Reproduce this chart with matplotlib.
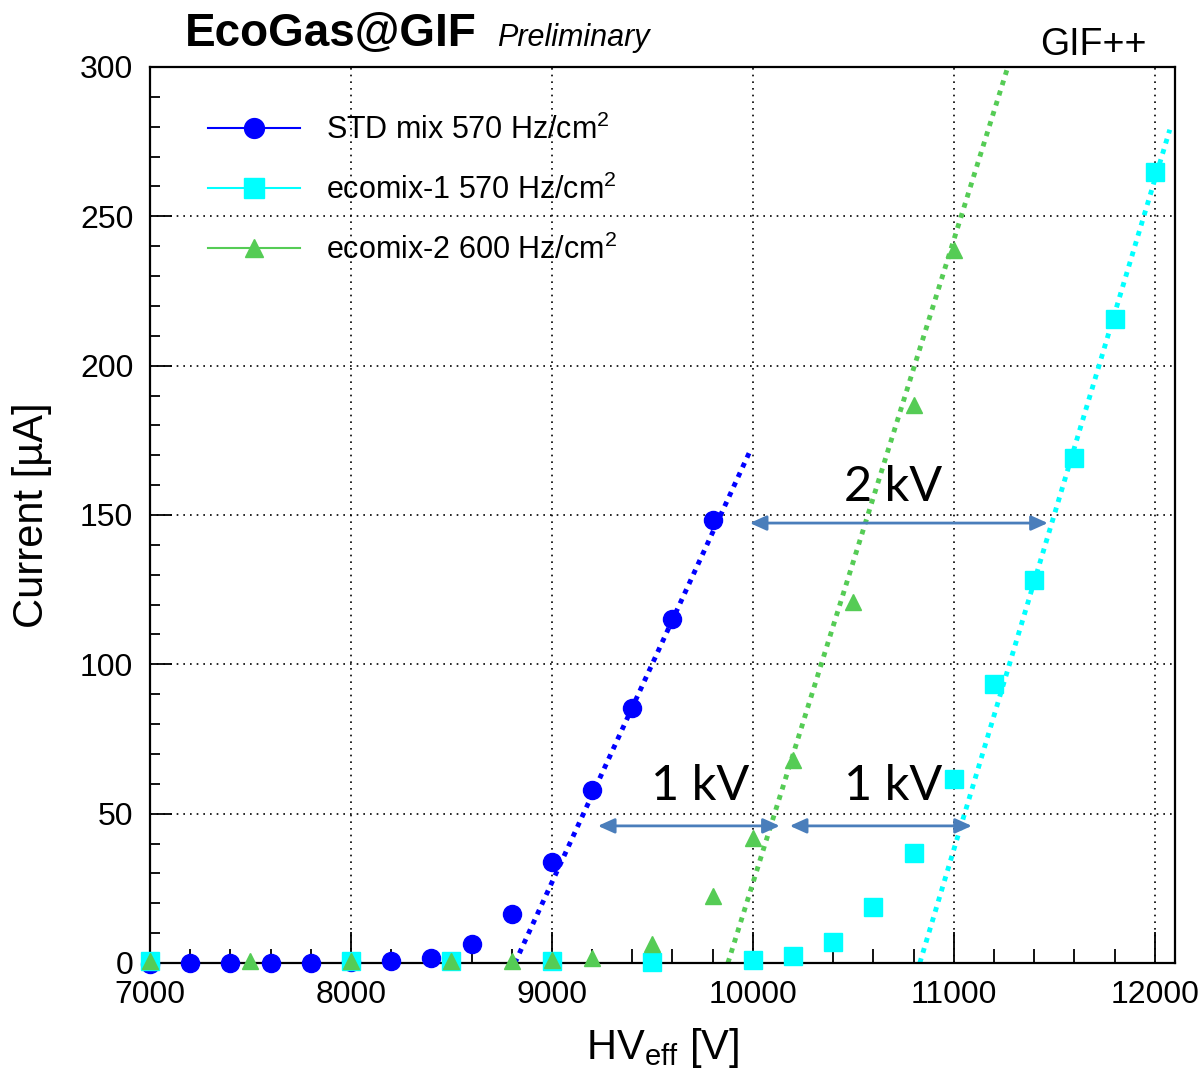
import matplotlib
matplotlib.use('Agg')
import matplotlib.pyplot as plt
from matplotlib.ticker import MultipleLocator

plt.rcParams['font.family'] = ['Liberation Sans', 'DejaVu Sans']
plt.rcParams['mathtext.default'] = 'regular'

# STD mix 570 Hz/cm2 (blue circles)
std_hv = [7000, 7200, 7400, 7600, 7800, 8000, 8200, 8400, 8600, 8800, 9000, 9200, 9400, 9600, 9800]
std_cur = [-0.5, 0.0, 0.0, 0.0, 0.0, 0.2, 0.7, 1.7, 6.4, 16.4, 33.8, 57.9, 85.4, 115.2, 148.3]

# ecomix-1 570 Hz/cm2 (cyan squares)
eco1_hv = [7000, 8000, 8500, 9000, 9500, 10000, 10200, 10400, 10600, 10800, 11000, 11200, 11400, 11600, 11800, 12000]
eco1_cur = [0.5, 0.5, 0.5, 0.5, 0.3, 1.0, 2.3, 7.0, 18.7, 36.8, 61.6, 93.4, 128.2, 169.0, 215.6, 264.8]

# ecomix-2 600 Hz/cm2 (green triangles)
eco2_hv = [7000, 7500, 8000, 8500, 8800, 9000, 9200, 9500, 9800, 10000, 10200, 10500, 10800, 11000]
eco2_cur = [0.5, 0.5, 0.5, 0.5, 0.5, 1.0, 1.7, 6.4, 22.4, 41.8, 68.0, 120.9, 186.8, 238.7]

# linear fits (end points)
std_fit_hv = [8816, 9990]
std_fit_cur = [0, 172]
eco1_fit_hv = [10831, 12075]
eco1_fit_cur = [0, 279]
eco2_fit_hv = [9876, 11269]
eco2_fit_cur = [0, 300]

# voltage shift arrows: (x start, x end, y, label, label x, label y)
arrows = [
    (9985, 11468, 147.3, '2 kV', 10697, 152),
    (9229, 10134, 45.9, '1 kV', 9736, 52),
    (10184, 11090, 45.9, '1 kV', 10697, 52),
]

c_std = '#0000ff'
c_eco1 = '#00ffff'
c_eco2 = '#55cc55'
c_arrow = '#4a7ebb'

fig = plt.figure(figsize=(12, 10.72), dpi=100)
ax = fig.add_axes([0.125, 0.1017, 0.854, 0.8358])

ax.plot(std_fit_hv, std_fit_cur, color=c_std, lw=3.5, ls=(0, (1, 1.2)), zorder=2)
ax.plot(eco1_fit_hv, eco1_fit_cur, color=c_eco1, lw=3.5, ls=(0, (1, 1.2)), zorder=2)
ax.plot(eco2_fit_hv, eco2_fit_cur, color=c_eco2, lw=3.5, ls=(0, (1, 1.2)), zorder=2)

ax.plot(std_hv, std_cur, 'o', color=c_std, ms=13, zorder=3, clip_on=False, label='STD mix 570 Hz/cm$^2$')
ax.plot(eco1_hv, eco1_cur, 's', color=c_eco1, ms=13, zorder=4, clip_on=False, label='ecomix-1 570 Hz/cm$^2$')
ax.plot(eco2_hv, eco2_cur, '^', color=c_eco2, ms=12, zorder=5, clip_on=False, label='ecomix-2 600 Hz/cm$^2$')

for x0, x1, y, lab, tx, ty in arrows:
    ax.annotate('', xy=(x1, y), xytext=(x0, y),
                arrowprops=dict(arrowstyle='<|-|>,head_length=1.0,head_width=0.45',
                                color=c_arrow, lw=2, shrinkA=0, shrinkB=0), zorder=6)
    ax.text(tx, ty, lab, ha='center', va='bottom', fontsize=35, family=['Lato', 'DejaVu Sans'], zorder=7)

ax.set_xlim(7000, 12100)
ax.set_ylim(0, 300)
ax.xaxis.set_major_locator(MultipleLocator(1000))
ax.xaxis.set_minor_locator(MultipleLocator(200))
ax.yaxis.set_major_locator(MultipleLocator(50))
ax.yaxis.set_minor_locator(MultipleLocator(10))
ax.tick_params(axis='x', which='major', direction='in', length=22, width=1.3, labelsize=23, pad=12)
ax.tick_params(axis='x', which='minor', direction='in', length=10, width=1.3)
ax.tick_params(axis='y', which='major', direction='in', length=16, width=1.3, labelsize=23, pad=12)
ax.tick_params(axis='y', which='minor', direction='in', length=7, width=1.3)
ax.grid(True, which='major', color='black', ls=(0, (1, 3)), lw=1.2)
for s in ax.spines.values():
    s.set_linewidth(1.6)

ax.set_xlabel('HV$_{eff}$ [V]', fontsize=30)
ax.set_ylabel('Current [µA]', fontsize=30)
ax.xaxis.set_label_coords(0.5, -0.07)
ax.yaxis.set_label_coords(-0.096, 0.5)

ax.legend(loc='upper left', bbox_to_anchor=(0.03, 0.978), frameon=False, fontsize=22,
          handlelength=3.0, labelspacing=0.95, handletextpad=0.85, numpoints=1, markerscale=1.1)
for line in ax.get_legend().get_lines():
    line.set_linestyle('-')
    line.set_linewidth(1.5)

fig.text(185 / 1200, 1 - 46 / 1072, 'EcoGas@GIF', fontsize=33, fontweight='bold')
fig.text(497 / 1200, 1 - 46 / 1072, 'Preliminary', fontsize=22, style='italic')
fig.text(1040 / 1200, 1 - 55 / 1072, 'GIF++', fontsize=27)

fig.savefig('out.png', dpi=100)
